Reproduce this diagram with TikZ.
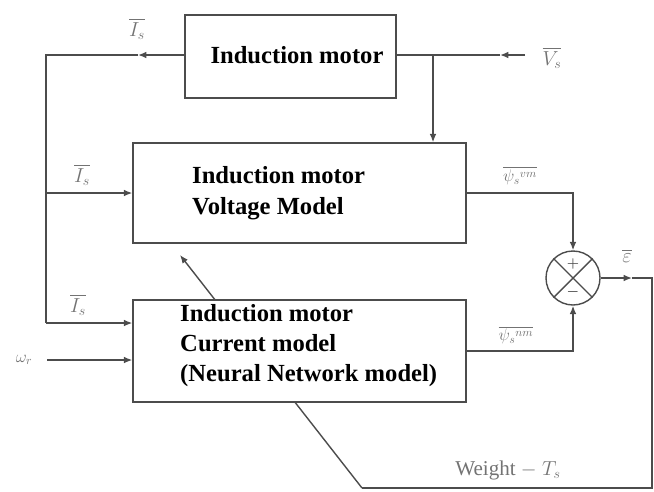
\documentclass[tikz,border=0pt]{standalone}
\usepackage{amsmath,amssymb}
\usepackage{fontspec}
\setmainfont{Liberation Serif}
\usetikzlibrary{positioning,arrows.meta,calc,backgrounds}

\begin{document}
\begin{tikzpicture}[x=0.03cm,y=-0.03cm,
  blk/.style={draw=black!70,line width=1.2pt,fill=white,inner sep=0pt},
  wire/.style={black!70,line width=1.2pt},
  arr/.style={wire,-{Latex[length=2.5mm,width=2mm]}},
  lbl/.style={black!55,font=\LARGE},
  btxt/.style={font=\fontsize{21}{27}\selectfont\bfseries,align=left,anchor=north west,inner sep=0pt}]
\useasboundingbox (0,0) rectangle (654,491);
\node[blk,minimum width=6.33cm,minimum height=2.49cm] (motor) at (290.5,56.5) {};
\node[blk,minimum width=9.99cm,minimum height=3.0cm] (vmodel) at (299.5,193) {};
\node[blk,minimum width=9.99cm,minimum height=3.06cm] (cmodel) at (299.5,351) {};
\node[blk,circle,minimum size=1.62cm] (sum) at (573,278) {};
\node[btxt,anchor=center] (tmotor) at (297,55) {Induction motor};
\node[btxt] (tvolt) at (192,166) {Induction motor\\Voltage Model};
\node[btxt,font=\fontsize{21}{25.5}\selectfont\bfseries] (tcurr) at (180,304) {Induction motor\\Current model\\(Neural Network model)};
\draw[wire] (sum.north west) -- (sum.south east);
\draw[wire] (sum.north east) -- (sum.south west);
\node[black!70,font=\large] (plus) at ($(sum.center)+(0,-14)$) {$\boldsymbol{+}$};
\node[black!70,font=\large] (minus) at ($(sum.center)+(0,14)$) {$\boldsymbol{-}$};
\coordinate (tl) at (46,55);
\coordinate (ia) at (138,55);
\coordinate (vs) at (525,55);
\coordinate (va) at (500,55);
\coordinate (wr) at (47,360);
\coordinate (ea) at (632,278);
\coordinate (br) at (652,488);
\coordinate (bm) at (362,488);
\coordinate (wa) at (180,255);
\draw[arr] (motor.west |- tl) -- (ia);
\draw[wire] (ia) -- (tl) -- (46,323);
\draw[arr] (46,193) -- (vmodel.west);
\draw[arr] (46,323) -- (cmodel.west |- 0,323);
\draw[arr] (wr) -- (cmodel.west |- wr);
\draw[arr] (vs) -- (va);
\draw[wire] (va) -- (motor.east |- va);
\draw[arr] (433,55) -- (vmodel.north -| 433,0);
\draw[arr] (vmodel.east) -| (sum.north);
\draw[arr] (cmodel.east) -| (sum.south);
\draw[arr] (sum.east) -- (ea);
\draw[wire] (ea) -- (br |- ea) -- (br) -- (bm);
\begin{scope}[on background layer]
  \draw[arr] (bm) -- (wa);
\end{scope}
\node[lbl] (ltop) at (137,29) {$\overline{I_s}$};
\node[lbl] (lmid) at (82,175) {$\overline{I_s}$};
\node[lbl] (lbot) at (78,305) {$\overline{I_s}$};
\node[lbl,font=\Large] (lwr) at (24,360) {$\omega_r$};
\node[lbl] (lvs) at (552,58) {$\overline{V_s}$};
\node[lbl,font=\Large] (lvm) at (520,176) {$\overline{\psi_s{}^{vm}}$};
\node[lbl,font=\Large] (lnm) at (516,335) {$\overline{\psi_s{}^{nm}}$};
\node[lbl] (leps) at (627,256) {$\overline{\varepsilon}$};
\node[lbl,font=\fontsize{18}{22}\selectfont] (lw) at (508,470) {Weight $-$ $T_s$};
\end{tikzpicture}
\end{document}
